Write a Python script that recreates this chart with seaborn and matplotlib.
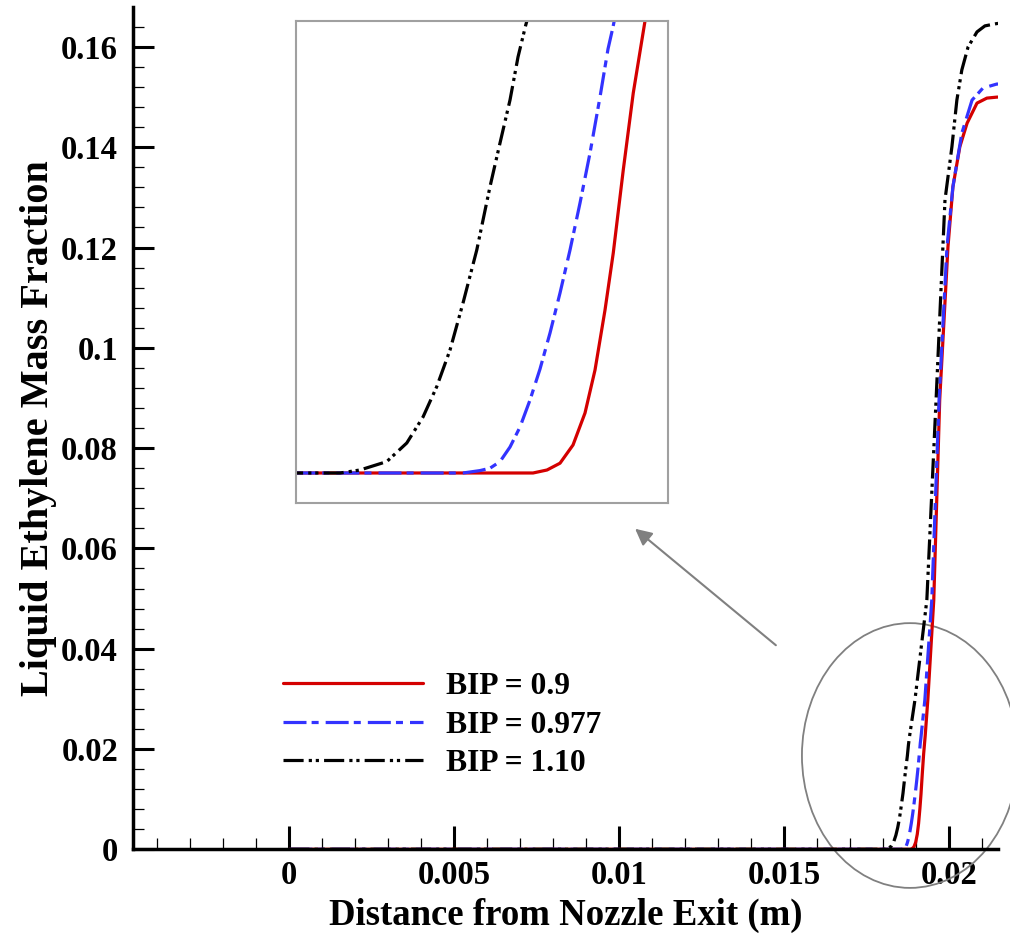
import numpy as np
import pandas as pd
import matplotlib
matplotlib.use('Agg')
import matplotlib.pyplot as plt
import seaborn as sns
from matplotlib.patches import Ellipse
from matplotlib.ticker import MultipleLocator, FuncFormatter

# Okunan veriler (eksen değerleri, m ve kütle oranı)
x_bip090 = [0.0, 0.018822, 0.018878, 0.018930, 0.018982, 0.019030, 0.019070,
            0.019110, 0.019143, 0.019183, 0.019223, 0.019270, 0.01935, 0.01953,
            0.01971, 0.01996, 0.02011, 0.02032, 0.02054, 0.02084, 0.02114,
            0.02145, 0.02148]
y_bip090 = [0.0, 0.0, 0.00015, 0.00049, 0.0014, 0.0030, 0.00515,
            0.00815, 0.0110, 0.01515, 0.0190, 0.0226, 0.0298, 0.0497,
            0.0896, 0.1201, 0.1321, 0.1401, 0.1448, 0.1488, 0.1498,
            0.1500, 0.1500]

x_bip0977 = [0.0, 0.018542, 0.018610, 0.018650, 0.018690, 0.018730, 0.018770,
             0.018810, 0.018850, 0.018890, 0.018930, 0.018970, 0.019010,
             0.019050, 0.019090, 0.019122, 0.019142, 0.01926, 0.01947,
             0.01969, 0.01993, 0.02011, 0.02038, 0.02069, 0.02102, 0.02144,
             0.02148]
y_bip0977 = [0.0, 0.0, 0.00012, 0.00024, 0.00057, 0.0013, 0.0023,
             0.00365, 0.0052, 0.0070, 0.0090, 0.01115, 0.0135,
             0.0160, 0.0188, 0.0212, 0.0223, 0.0298, 0.0497,
             0.0896, 0.1201, 0.1321, 0.1428, 0.1494, 0.1518, 0.1526,
             0.1526]

x_bip110 = [0.0, 0.018050, 0.018130, 0.018237, 0.018317, 0.018382, 0.018437,
            0.018490, 0.018542, 0.018597, 0.018650, 0.018690, 0.018730,
            0.018762, 0.018793, 0.01896, 0.01932, 0.01960, 0.01987, 0.02008,
            0.02023, 0.02038, 0.02057, 0.02084, 0.02108, 0.02139, 0.02148]
y_bip110 = [0.0, 0.0, 0.00015, 0.00057, 0.0015, 0.0028, 0.00432,
            0.00615, 0.0085, 0.01115, 0.01432, 0.0165, 0.01865,
            0.0208, 0.0224, 0.0298, 0.0497, 0.0896, 0.1295, 0.1401,
            0.1494, 0.1554, 0.1600, 0.1630, 0.1642, 0.1646, 0.1647]

labels = ['BIP = 0.9', 'BIP = 0.977', 'BIP = 1.10']

sns.set_style('ticks')
plt.rcParams['font.family'] = ['Liberation Serif', 'DejaVu Serif']
plt.rcParams['font.weight'] = 'bold'
plt.rcParams['text.color'] = 'black'
plt.rcParams['axes.labelcolor'] = 'black'
plt.rcParams['xtick.color'] = 'black'
plt.rcParams['ytick.color'] = 'black'

series = [
    (x_bip090, y_bip090, '#d40000', '-'),
    (x_bip0977, y_bip0977, '#3333ff', (0, (7.2, 1.6, 2.2, 2.2))),
    (x_bip110, y_bip110, 'black', (0, (6.3, 1.6, 1.0, 1.2, 1.0, 1.6))),
]

fig = plt.figure(figsize=(10.1, 9.4), dpi=100)
ax = fig.add_axes([0.1320, 0.0965, 0.8561, 0.8957])

for (xs, ys, col, ls), lab in zip(series, labels):
    df = pd.DataFrame({'x': xs, 'y': ys})
    sns.lineplot(data=df, x='x', y='y', ax=ax, color=col, linestyle=ls,
                 linewidth=2.3, label=lab, estimator=None)

ax.set_xlim(-0.004727, 0.021476)
ax.set_ylim(0, 0.1679)
sns.despine(ax=ax)
for sp in ['left', 'bottom']:
    ax.spines[sp].set_linewidth(2.5)
    ax.spines[sp].set_color('black')

ax.xaxis.set_major_locator(MultipleLocator(0.005))
ax.xaxis.set_minor_locator(MultipleLocator(0.001))
ax.yaxis.set_major_locator(MultipleLocator(0.02))
ax.yaxis.set_minor_locator(MultipleLocator(0.004))
fmt = FuncFormatter(lambda v, p: '%g' % round(v, 6))
ax.xaxis.set_major_formatter(fmt)
ax.yaxis.set_major_formatter(fmt)
ax.tick_params(which='major', direction='in', length=15, width=2.2,
               labelsize=23.5, color='black', labelcolor='black')
ax.tick_params(which='minor', direction='in', length=8, width=0.9, color='black')
ax.tick_params(axis='x', which='major', length=16.5, pad=8)
ax.tick_params(axis='y', which='major', pad=11)
for t in ax.get_xticklabels() + ax.get_yticklabels():
    t.set_fontweight('bold')

ax.set_xlabel('Distance from Nozzle Exit (m)', fontsize=26.5, fontweight='bold', labelpad=5)
ax.set_ylabel('Liquid Ethylene Mass Fraction', fontsize=29, fontweight='bold', labelpad=3)

leg = ax.legend(loc='upper left', bbox_to_anchor=(0.2802, 0.2850),
                bbox_transform=fig.transFigure, frameon=False, fontsize=22.7,
                handlelength=4.45, handletextpad=0.72, labelspacing=0.3,
                borderpad=0, borderaxespad=0)
for t in leg.get_texts():
    t.set_fontweight('bold')
    t.set_color('black')

# büyütülmüş bölge için elips ve ok
ell = Ellipse((0.01881, 0.0187), 0.00655, 0.0528, fill=False,
              edgecolor='#808080', linewidth=1.3, clip_on=False)
ax.add_patch(ell)
ax.annotate('', xy=(0.010415, 0.06427), xytext=(0.01481, 0.04034),
            arrowprops=dict(arrowstyle='-|>', color='#808080', lw=1.5,
                            mutation_scale=25))

# iç grafik
axin = fig.add_axes([0.2931, 0.4649, 0.3683, 0.5128])
for (xs, ys, col, ls) in series:
    df = pd.DataFrame({'x': xs, 'y': ys})
    sns.lineplot(data=df, x='x', y='y', ax=axin, color=col, linestyle=ls,
                 linewidth=2.3, estimator=None, legend=False)
axin.set_xlim(0.017874, 0.019362)
axin.set_ylim(-0.0015, 0.0226)
axin.set_xticks([])
axin.set_yticks([])
axin.set_xlabel('')
axin.set_ylabel('')
for sp in axin.spines.values():
    sp.set_visible(True)
    sp.set_color('#a0a0a0')
    sp.set_linewidth(1.5)

fig.savefig('out.png', dpi=100)
